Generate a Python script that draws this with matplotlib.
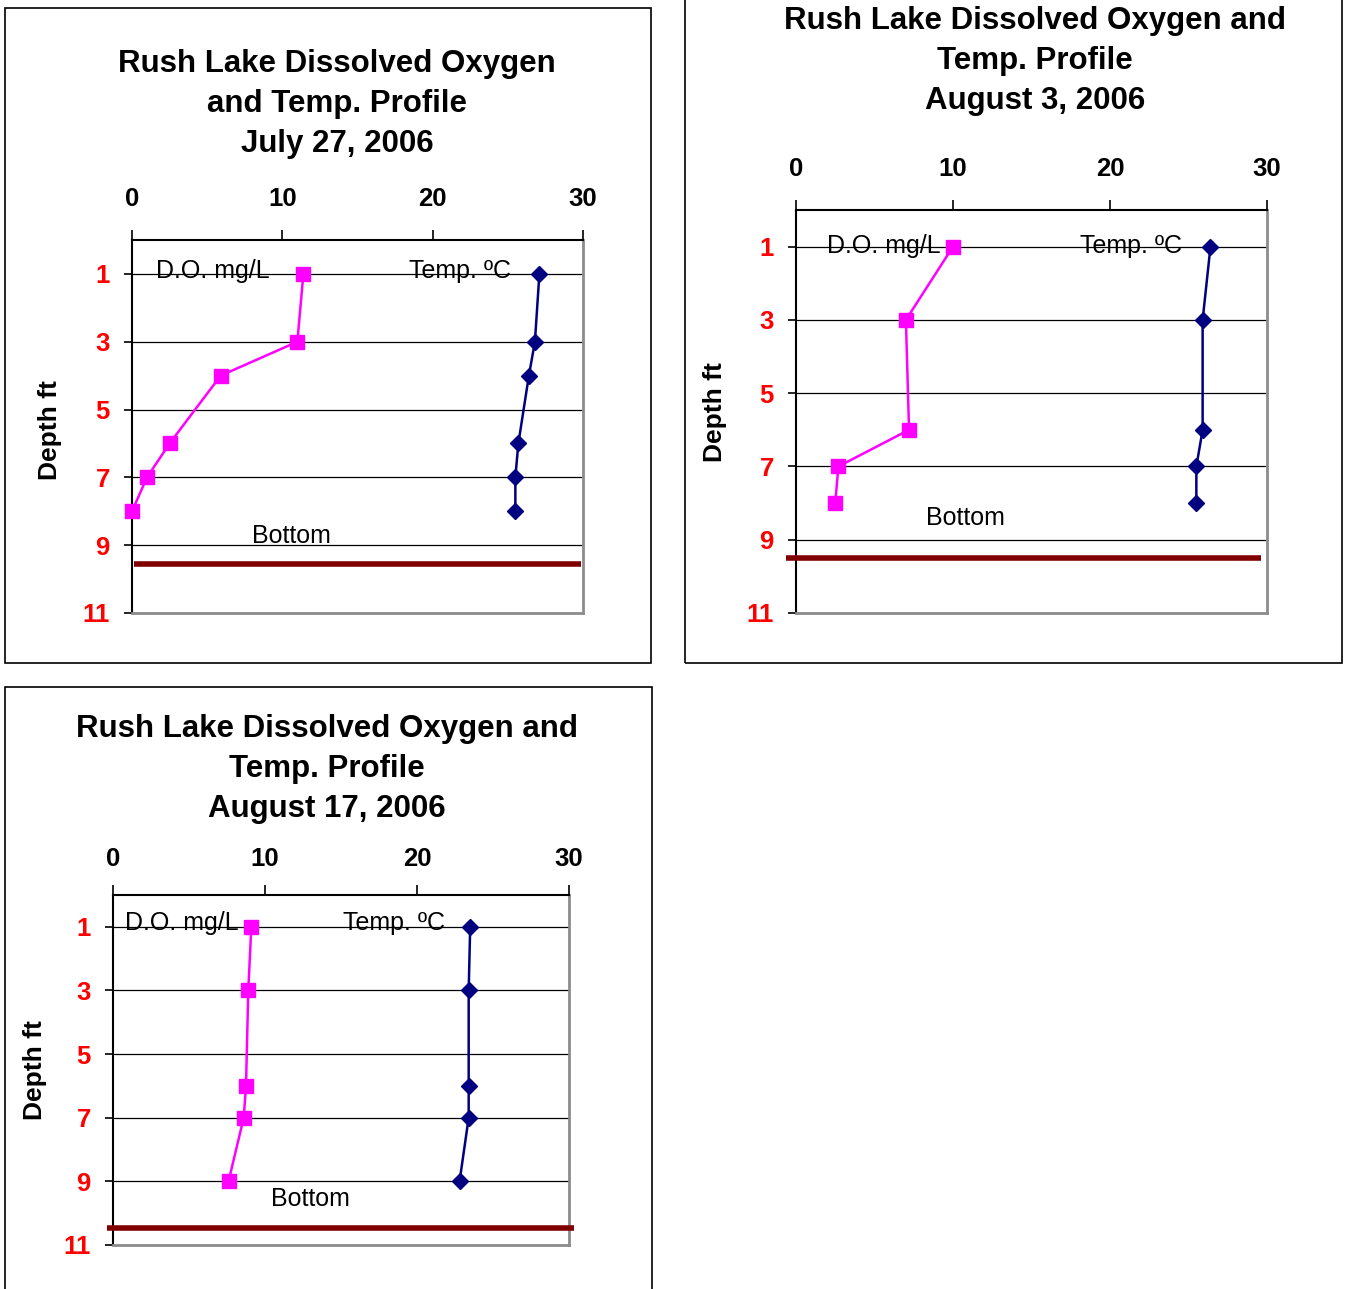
"""Rush Lake dissolved oxygen and temperature profiles, three dates."""
import matplotlib
matplotlib.use("Agg")
import matplotlib.pyplot as plt
from matplotlib.patches import Rectangle

plt.rcParams["font.family"] = ["Liberation Sans", "DejaVu Sans"]

W, H = 1345, 1289

# --- data -------------------------------------------------------------
TITLES = [
    "Rush Lake Dissolved Oxygen\nand Temp. Profile\nJuly 27, 2006",
    "Rush Lake Dissolved Oxygen and\nTemp. Profile\nAugust 3, 2006",
    "Rush Lake Dissolved Oxygen and\nTemp. Profile\nAugust 17, 2006",
]

jul27_depth = [1, 3, 4, 6, 7, 8]
jul27_do = [11.4, 11.0, 5.9, 2.5, 1.0, 0.0]
jul27_temp = [27.1, 26.8, 26.4, 25.7, 25.5, 25.5]
jul27_bottom = 9.55

aug03_depth = [1, 3, 6, 7, 8]
aug03_do = [10.0, 7.0, 7.2, 2.7, 2.5]
aug03_temp = [26.4, 25.9, 25.9, 25.5, 25.5]
aug03_bottom = 9.5

aug17_depth = [1, 3, 6, 7, 9]
aug17_do = [9.1, 8.9, 8.75, 8.6, 7.6]
aug17_temp = [23.5, 23.4, 23.4, 23.4, 22.8]
aug17_bottom = 10.45

X_TICKS = [0, 10, 20, 30]
Y_TICKS = [1, 3, 5, 7, 9, 11]

# --- layout (pixels) --------------------------------------------------
PANELS = [
    dict(frame=(5, 8, 651, 663), ax=(132, 240, 583, 613), title=(337, 104),
         ylab=(50, 430), do_lab=(1.6, 0.9), t_lab=(18.4, 0.9),
         bot_lab=(10.6, 8.74), bot_x=(0.1, 29.9), xpad=14),
    dict(frame=(685, -5, 1342, 663), ax=(796, 210, 1267, 613), title=(1035, 61),
         ylab=(715, 412), do_lab=(2.0, 0.97), t_lab=(18.1, 0.97),
         bot_lab=(10.8, 8.4), bot_x=(-0.65, 29.6), xpad=14),
    dict(frame=(5, 687, 652, 1300), ax=(113, 895, 569, 1245), title=(327, 769),
         ylab=(35, 1070), do_lab=(0.8, 0.87), t_lab=(15.1, 0.87),
         bot_lab=(13.0, 9.56), bot_x=(-0.4, 30.3), xpad=10),
]


def fx(px):
    return px / W


def fy(py):
    return 1 - py / H


def draw_panel(fig, p, title, depth, do, temp, bottom):
    x0, y0, x1, y1 = p["frame"]
    fig.add_artist(Rectangle((fx(x0), fy(y1)), fx(x1 - x0), (y1 - y0) / H,
                             transform=fig.transFigure, fill=False,
                             edgecolor="black", lw=1.2))

    l, t, r, b = p["ax"]
    ax = fig.add_axes([fx(l), fy(b), fx(r - l), (b - t) / H])
    ax.set_xlim(0, 30)
    ax.set_ylim(11, 0)
    ax.xaxis.tick_top()
    ax.set_xticks(X_TICKS)
    ax.set_yticks(Y_TICKS)
    ax.tick_params(axis="x", length=7, width=1.2, pad=p["xpad"], labelsize=18.5)
    ax.tick_params(axis="y", length=6, width=1.2, pad=10, labelsize=18.5,
                   labelcolor="red")
    for lab in ax.get_xticklabels() + ax.get_yticklabels():
        lab.set_fontweight("bold")
    ax.grid(axis="y", color="black", lw=0.9)
    ax.set_axisbelow(True)
    for side in ("top", "left"):
        ax.spines[side].set_color("black")
        ax.spines[side].set_linewidth(1.5)
    for side in ("right", "bottom"):
        ax.spines[side].set_color("#8c8c8c")
        ax.spines[side].set_linewidth(2)

    ax.plot(do, depth, color="#ff00ff", marker="s", markersize=10, lw=1.8,
            clip_on=False, zorder=4)
    ax.plot(temp, depth, color="#000080", marker="D", markersize=8.5, lw=1.8,
            clip_on=False, zorder=4)
    ax.plot(p["bot_x"], [bottom, bottom], color="#800000", lw=4, clip_on=False,
            solid_capstyle="butt", zorder=5)

    ax.text(*p["do_lab"], "D.O. mg/L", fontsize=18, va="center", ha="left")
    ax.text(*p["t_lab"], "Temp. ºC", fontsize=18, va="center", ha="left")
    ax.text(*p["bot_lab"], "Bottom", fontsize=18, va="center", ha="center")

    fig.text(fx(p["title"][0]), fy(p["title"][1]), title, ha="center",
             va="center", fontsize=22.5, fontweight="bold", linespacing=1.42)
    fig.text(fx(p["ylab"][0]), fy(p["ylab"][1]), "Depth ft", ha="center",
             va="center", rotation=90, fontsize=19, fontweight="bold")


fig = plt.figure(figsize=(W / 100, H / 100), dpi=100)
draw_panel(fig, PANELS[0], TITLES[0], jul27_depth, jul27_do, jul27_temp, jul27_bottom)
draw_panel(fig, PANELS[1], TITLES[1], aug03_depth, aug03_do, aug03_temp, aug03_bottom)
draw_panel(fig, PANELS[2], TITLES[2], aug17_depth, aug17_do, aug17_temp, aug17_bottom)
fig.savefig("out.png", dpi=100)
